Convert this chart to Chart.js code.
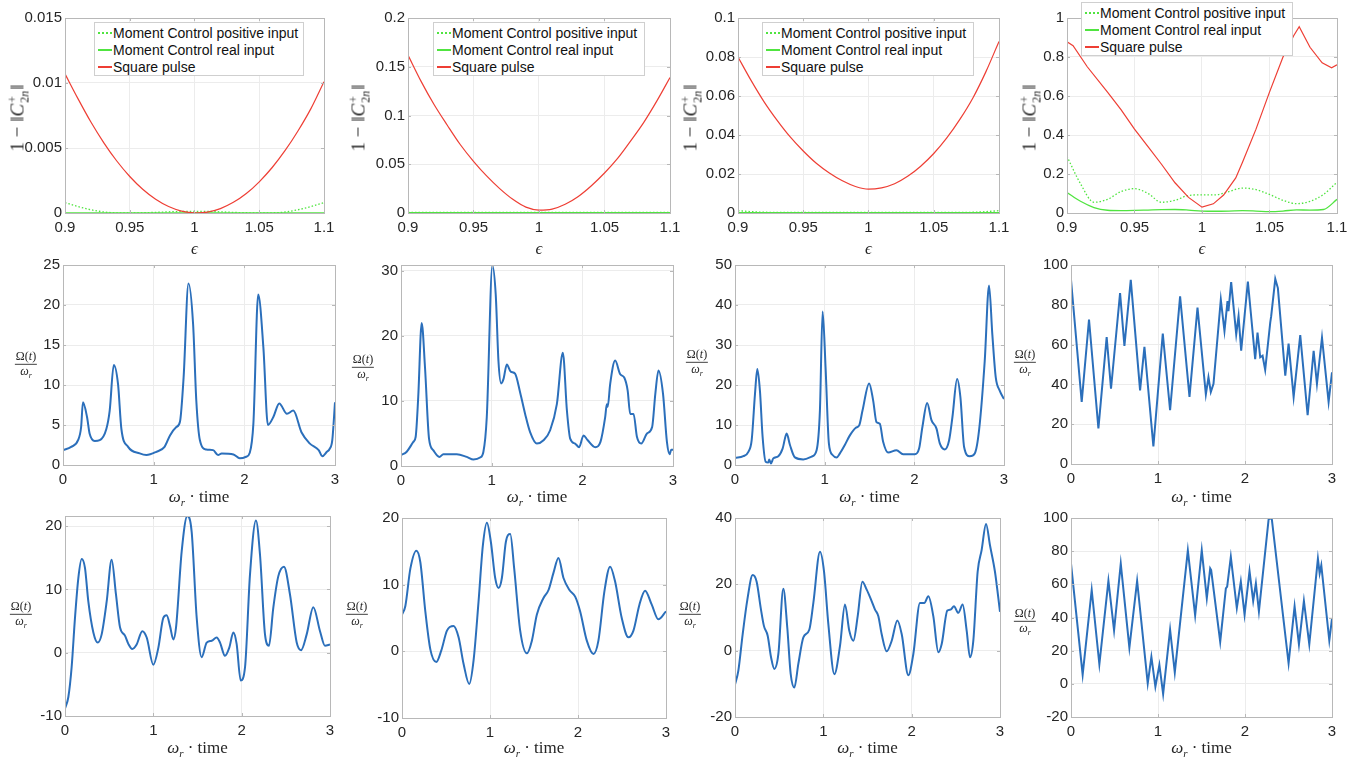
<!DOCTYPE html>
<html>
<head>
<meta charset="utf-8">
<script src="https://cdn.jsdelivr.net/npm/chart.js@4.4.1/dist/chart.umd.min.js"></script>
<style>
body { margin: 0; background: #fff; }
#fig { position: relative; width: 1361px; height: 762px; overflow: hidden; background: #fff; }
#fig canvas { position: absolute; }
.lbl { position: absolute; font-family: "Liberation Serif", "DejaVu Serif", serif; color: #262626; white-space: nowrap; transform: translate(-50%, -50%); line-height: 1; }
.xlab { font-size: 17px; }
.ylab { font-size: 19px; transform: translate(-50%, -50%) rotate(-90deg); }
.ss { display: inline-flex; flex-direction: column; font-size: 12px; line-height: 0.95; vertical-align: middle; margin: 0 1px; }
.frac { display: flex; flex-direction: column; align-items: center; font-size: 12px; line-height: 1.15; }
.frac .num { border-bottom: 1px solid #404040; padding: 0 1px; }
.legend { position: absolute; background: #fff; border: 1px solid #cfcfcf; font-family: "Liberation Sans", Arial, sans-serif; font-size: 14px; color: #111; padding-top: 1px; box-sizing: border-box; }
.legend .row { display: flex; align-items: center; height: 17px; white-space: nowrap; }
.legend .sw { width: 14px; height: 2px; margin: 0 1px 0 3px; }
</style>
</head>
<body>
<div id="fig"></div>
<script>
// ---- data ----
const seriesNames = ['Moment Control positive input', 'Moment Control real input', 'Square pulse'];
const epsGrid = [0.90, 0.91, 0.92, 0.93, 0.94, 0.95, 0.96, 0.97, 0.98, 0.99, 1.00, 1.01, 1.02, 1.03, 1.04, 1.05, 1.06, 1.07, 1.08, 1.09, 1.10];
const epsTicks = [0.9, 0.95, 1, 1.05, 1.1];
const timeTicks = [0, 1, 2, 3];

const p1Positive = [0.0008, 0.0005, 0.00025, 0.00008, 0.00001, 0, 0.00002, 0.00005, 0.00009, 0.00012, 0.00013, 0.00012, 0.00009, 0.00005, 0.00002, 0, 0.00001, 0.00008, 0.00025, 0.0005, 0.0008];
const p1Real = [0.00001, 0.00001, 0.00001, 0.00001, 0.00001, 0.00001, 0.00001, 0.00001, 0.00001, 0.00001, 0.00001, 0.00001, 0.00001, 0.00001, 0.00001, 0.00001, 0.00001, 0.00001, 0.00001, 0.00001, 0.00001];
const p1Square = [0.0107, 0.0088, 0.0070, 0.0054, 0.0040, 0.00281, 0.00183, 0.00106, 0.0005, 0.00015, 0.00001, 0.00007, 0.00034, 0.00082, 0.0015, 0.0024, 0.0035, 0.00481, 0.00633, 0.00805, 0.0101];
const p1YTicks = [0, 0.005, 0.01, 0.015];

const p2Positive = [0.0006, 0.0005, 0.0005, 0.0005, 0.0005, 0.0005, 0.0005, 0.0005, 0.0005, 0.0005, 0.0005, 0.0005, 0.0005, 0.0005, 0.0005, 0.0005, 0.0005, 0.0005, 0.0005, 0.0005, 0.0006];
const p2Real = [0.0003, 0.0003, 0.0003, 0.0003, 0.0003, 0.0003, 0.0003, 0.0003, 0.0003, 0.0003, 0.0003, 0.0003, 0.0003, 0.0003, 0.0003, 0.0003, 0.0003, 0.0003, 0.0003, 0.0003, 0.0003];
const p2Square = [0.162, 0.135, 0.111, 0.090, 0.070, 0.053, 0.038, 0.025, 0.014, 0.006, 0.003, 0.004, 0.009, 0.017, 0.028, 0.041, 0.056, 0.074, 0.093, 0.115, 0.139];
const p2YTicks = [0, 0.05, 0.1, 0.15, 0.2];

const p3Positive = [0.0012, 0.0007, 0.0004, 0.0003, 0.0003, 0.0003, 0.0003, 0.0003, 0.0003, 0.0003, 0.0003, 0.0003, 0.0003, 0.0003, 0.0003, 0.0003, 0.0003, 0.0003, 0.0004, 0.0007, 0.0012];
const p3Real = [0.0002, 0.0002, 0.0002, 0.0002, 0.0002, 0.0002, 0.0002, 0.0002, 0.0002, 0.0002, 0.0002, 0.0002, 0.0002, 0.0002, 0.0002, 0.0002, 0.0002, 0.0002, 0.0002, 0.0002, 0.0002];
const p3Square = [0.080, 0.068, 0.057, 0.0475, 0.039, 0.0318, 0.0255, 0.0205, 0.0165, 0.0136, 0.0122, 0.0129, 0.015, 0.0188, 0.024, 0.0305, 0.0385, 0.048, 0.059, 0.0725, 0.088];
const p3YTicks = [0, 0.02, 0.04, 0.06, 0.08, 0.1];

const p4Positive = [0.29, 0.15, 0.055, 0.07, 0.11, 0.125, 0.10, 0.055, 0.065, 0.09, 0.093, 0.093, 0.11, 0.128, 0.12, 0.095, 0.065, 0.048, 0.060, 0.095, 0.158];
const p4Real = [0.105, 0.06, 0.028, 0.014, 0.012, 0.013, 0.015, 0.017, 0.018, 0.015, 0.01, 0.009, 0.01, 0.012, 0.01, 0.007, 0.01, 0.016, 0.015, 0.018, 0.07];
const p4SquareEps = [0.9, 0.9045, 0.915, 0.93, 0.94, 0.95, 0.96, 0.97, 0.98, 0.99, 1.0, 1.0084, 1.016, 1.025, 1.03, 1.04, 1.05, 1.06, 1.068, 1.072, 1.08, 1.089, 1.096, 1.1];
const p4Square = [0.878, 0.858, 0.75, 0.62, 0.53, 0.43, 0.34, 0.25, 0.155, 0.08, 0.03, 0.047, 0.092, 0.18, 0.26, 0.43, 0.62, 0.80, 0.91, 0.955, 0.85, 0.77, 0.745, 0.76];
const p4YTicks = [0, 0.2, 0.4, 0.6, 0.8, 1];

const p5Time = [0, 0.09, 0.166, 0.2, 0.22, 0.265, 0.294, 0.35, 0.405, 0.478, 0.515, 0.56, 0.607, 0.644, 0.718, 0.846, 0.92, 1.03, 1.12, 1.18, 1.25, 1.29, 1.33, 1.384, 1.435, 1.47, 1.51, 1.58, 1.656, 1.71, 1.75, 1.88, 1.95, 2.02, 2.06, 2.1, 2.153, 2.21, 2.26, 2.32, 2.385, 2.47, 2.54, 2.63, 2.72, 2.82, 2.86, 2.91, 2.94, 2.97, 3.0];
const p5Omega = [1.86, 2.27, 3.1, 4.75, 7.85, 6.0, 3.9, 3.0, 3.1, 4.5, 6.8, 12.5, 10.1, 4.5, 2.27, 1.45, 1.24, 1.65, 2.27, 3.7, 4.75, 5.4, 10.9, 22.7, 17.6, 8.1, 3.1, 1.94, 1.86, 1.24, 1.45, 1.32, 0.83, 1.03, 1.53, 5.2, 21.3, 14.7, 5.0, 6.0, 7.7, 6.4, 6.8, 4.1, 2.7, 1.86, 1.1, 1.65, 2.0, 3.1, 7.85];
const p5YTicks = [0, 5, 10, 15, 20, 25];

const p6Time = [0, 0.063, 0.136, 0.162, 0.19, 0.228, 0.265, 0.309, 0.357, 0.423, 0.467, 0.615, 0.725, 0.8, 0.872, 0.909, 0.946, 1.008, 1.045, 1.075, 1.104, 1.13, 1.167, 1.21, 1.258, 1.314, 1.369, 1.424, 1.498, 1.572, 1.645, 1.719, 1.785, 1.83, 1.866, 1.92, 1.965, 2.013, 2.057, 2.142, 2.2, 2.252, 2.27, 2.28, 2.307, 2.362, 2.418, 2.462, 2.5, 2.528, 2.565, 2.602, 2.65, 2.713, 2.77, 2.805, 2.84, 2.89, 2.933, 2.963, 2.98, 3.0];
const p6Omega = [1.68, 2.2, 3.7, 4.5, 10.6, 22.0, 15.1, 4.2, 2.4, 1.4, 1.8, 1.8, 1.4, 1.0, 1.3, 2.2, 7.5, 30.8, 26.3, 16.1, 12.7, 13.35, 15.6, 14.5, 14.2, 11.3, 8.0, 5.2, 3.45, 3.96, 5.5, 9.5, 17.4, 8.5, 4.2, 3.45, 2.9, 4.7, 4.0, 2.9, 3.7, 7.5, 9.5, 9.1, 12.6, 16.2, 14.1, 13.6, 11.6, 8.0, 8.0, 4.5, 3.45, 5.0, 6.0, 11.1, 14.7, 11.1, 3.7, 1.8, 2.5, 2.5];
const p6YTicks = [0, 10, 20, 30];
const p6YRange = [0, 30.9];

const p7Time = [0, 0.093, 0.149, 0.186, 0.223, 0.249, 0.278, 0.308, 0.342, 0.371, 0.382, 0.401, 0.427, 0.483, 0.531, 0.576, 0.613, 0.668, 0.761, 0.854, 0.91, 0.947, 0.977, 1.01, 1.047, 1.088, 1.133, 1.17, 1.225, 1.281, 1.348, 1.385, 1.422, 1.496, 1.541, 1.578, 1.615, 1.652, 1.708, 1.801, 1.875, 2.005, 2.053, 2.09, 2.143, 2.191, 2.247, 2.284, 2.34, 2.388, 2.425, 2.477, 2.514, 2.555, 2.618, 2.674, 2.722, 2.785, 2.833, 2.87, 2.908, 2.952, 3.0];
const p7Omega = [1.8, 2.2, 3.3, 6.2, 17.8, 24.0, 18.6, 7.0, 0.8, 0.6, 1.4, 0.4, 1.65, 2.2, 4.1, 7.85, 5.0, 1.9, 1.4, 2.1, 3.7, 13.6, 38.4, 24.4, 5.4, 2.5, 1.9, 2.9, 5.0, 7.4, 9.3, 9.9, 13.6, 20.4, 16.1, 10.7, 10.3, 5.8, 3.1, 3.7, 2.7, 2.7, 4.1, 9.5, 15.5, 11.2, 9.1, 5.4, 3.9, 6.2, 12.0, 21.5, 16.9, 4.5, 2.2, 2.9, 8.7, 26.0, 44.9, 32.6, 21.9, 18.6, 16.5];
const p7YTicks = [0, 10, 20, 30, 40, 50];

const p8Time = [0, 0.123, 0.207, 0.315, 0.41, 0.46, 0.564, 0.614, 0.687, 0.794, 0.844, 0.947, 1.055, 1.139, 1.254, 1.362, 1.454, 1.55, 1.58, 1.607, 1.638, 1.722, 1.764, 1.799, 1.81, 1.841, 1.899, 1.926, 1.956, 2.033, 2.117, 2.144, 2.175, 2.202, 2.232, 2.29, 2.301, 2.348, 2.378, 2.463, 2.501, 2.559, 2.635, 2.72, 2.789, 2.827, 2.885, 2.961, 3.0];
const p8Omega = [92.5, 31.2, 72.6, 17.9, 63.8, 37.8, 85.9, 59.4, 92.5, 37.0, 58.9, 8.8, 65.5, 27.0, 84.2, 33.7, 78.6, 35.0, 43.6, 36.2, 40.3, 82.6, 66.8, 81.8, 76.8, 91.4, 65.2, 74.3, 56.9, 91.7, 52.7, 66.0, 53.6, 54.4, 47.3, 71.0, 74.3, 93.0, 88.4, 44.4, 60.5, 33.7, 64.8, 24.5, 56.9, 40.3, 63.5, 31.2, 46.1];
const p8YTicks = [0, 20, 40, 60, 80, 100];

const p9Time = [0, 0.038, 0.075, 0.113, 0.151, 0.189, 0.226, 0.264, 0.321, 0.37, 0.415, 0.472, 0.528, 0.577, 0.623, 0.679, 0.717, 0.762, 0.811, 0.875, 0.925, 1.0, 1.057, 1.113, 1.151, 1.189, 1.226, 1.257, 1.321, 1.385, 1.434, 1.491, 1.547, 1.604, 1.66, 1.717, 1.755, 1.811, 1.86, 1.906, 1.943, 1.989, 2.038, 2.094, 2.162, 2.208, 2.264, 2.309, 2.358, 2.415, 2.479, 2.547, 2.623, 2.672, 2.736, 2.811, 2.887, 2.943, 3.0];
const p9Omega = [-8.8, -7.0, -2.3, 5.5, 11.8, 14.8, 13.4, 8.1, 3.2, 1.6, 2.9, 8.1, 14.7, 9.2, 4.0, 2.7, 1.4, 0.6, 1.3, 3.4, 2.4, -1.9, 0.8, 5.5, 5.9, 4.2, 2.1, 4.0, 16.0, 21.6, 19.1, 5.5, -0.7, 1.6, 1.9, 2.4, 1.6, -0.5, 0.8, 3.2, 1.4, -4.4, -2.3, 12.3, 20.9, 15.4, 2.9, 1.1, 7.1, 12.1, 13.6, 9.2, 1.6, 0.4, 2.9, 7.2, 3.4, 1.1, 1.3];
const p9YTicks = [-10, 0, 10, 20];
const p9YRange = [-10, 21.6];

const p10Time = [0, 0.038, 0.095, 0.163, 0.208, 0.265, 0.322, 0.39, 0.446, 0.511, 0.586, 0.643, 0.7, 0.764, 0.813, 0.87, 0.919, 0.965, 1.01, 1.059, 1.097, 1.135, 1.18, 1.23, 1.275, 1.343, 1.419, 1.476, 1.532, 1.608, 1.665, 1.722, 1.778, 1.835, 1.903, 1.968, 2.024, 2.1, 2.176, 2.232, 2.3, 2.365, 2.421, 2.497, 2.573, 2.63, 2.698, 2.762, 2.838, 2.913, 3.0];
const p10Omega = [5.5, 6.8, 12.4, 15.1, 13.4, 6.0, 0.3, -1.6, 0.1, 3.1, 3.8, 2.1, -1.9, -4.9, -1.4, 7.5, 15.9, 19.3, 16.4, 11.0, 9.5, 11.0, 16.4, 17.6, 12.4, 3.1, -0.3, 1.6, 5.5, 8.0, 9.2, 11.8, 14.0, 11.0, 9.2, 8.2, 6.0, 1.6, -0.4, 1.6, 9.0, 12.7, 10.5, 5.0, 2.1, 3.1, 7.0, 9.1, 7.0, 4.8, 6.0];
const p10YTicks = [-10, 0, 10, 20];

const p11Time = [0, 0.038, 0.087, 0.14, 0.2, 0.245, 0.291, 0.328, 0.37, 0.408, 0.445, 0.491, 0.547, 0.592, 0.63, 0.672, 0.717, 0.774, 0.842, 0.887, 0.962, 1.008, 1.057, 1.125, 1.189, 1.245, 1.294, 1.34, 1.389, 1.442, 1.491, 1.54, 1.585, 1.623, 1.66, 1.717, 1.774, 1.838, 1.887, 1.962, 2.019, 2.094, 2.143, 2.189, 2.245, 2.302, 2.34, 2.404, 2.442, 2.479, 2.528, 2.577, 2.623, 2.66, 2.698, 2.747, 2.792, 2.842, 2.887, 2.943, 3.0];
const p11Omega = [-10.2, -6.0, 5.0, 15.4, 22.8, 20.8, 12.9, 7.4, 4.5, -2.0, -5.5, -1.0, 18.7, 6.9, -6.9, -11.1, -4.0, 4.0, 6.4, 14.4, 29.8, 23.8, 7.9, -7.1, 1.5, 13.9, 6.0, 3.0, 10.4, 20.8, 18.4, 15.4, 12.4, 10.4, 5.0, -0.2, 3.0, 9.1, 5.0, -7.4, -1.0, 14.4, 14.4, 16.4, 10.4, -0.5, 2.0, 12.1, 12.4, 13.4, 11.4, 13.9, 6.0, -2.0, 3.0, 23.8, 30.3, 38.2, 31.7, 23.8, 11.7];
const p11YTicks = [-20, 0, 20, 40];

const p12Time = [0, 0.134, 0.238, 0.326, 0.43, 0.495, 0.572, 0.671, 0.76, 0.882, 0.924, 0.97, 1.016, 1.059, 1.139, 1.193, 1.343, 1.427, 1.503, 1.561, 1.6, 1.611, 1.715, 1.78, 1.795, 1.837, 1.906, 1.952, 1.995, 2.052, 2.094, 2.125, 2.16, 2.271, 2.29, 2.309, 2.501, 2.57, 2.62, 2.677, 2.739, 2.838, 2.858, 2.877, 2.969, 3.0];
const p12Omega = [72.5, 5.5, 56.6, 11.8, 62.1, 32.2, 72.5, 21.8, 62.1, 0.3, 16.2, -1.7, 11.4, -6.1, 32.7, 6.9, 80.5, 41.3, 80.5, 51.6, 69.6, 68.6, 25.4, 57.6, 58.6, 76.5, 45.7, 61.6, 41.7, 68.0, 50.0, 60.6, 43.7, 99.0, 100, 99.0, 12.4, 46.7, 23.8, 50.0, 23.8, 75.5, 66.6, 71.5, 26.1, 39.3];
const p12YTicks = [-20, 0, 20, 40, 60, 80, 100];

// ---- style ----
const GREEN = 'rgb(80,228,64)';
const RED = 'rgb(238,62,52)';
const BLUE = '#2b6fbb';
const TICK_COLOR = '#262626';
const GRID_COLOR = '#ececec';
const FRAME_COLOR = '#b8b8b8';
const PAD = { l: 52, t: 10, r: 18, b: 28 };

function pts(xs, ys) {
  return xs.map((x, i) => ({ x: x, y: ys[i] }));
}

function line(label, xs, ys, color, width, dash, smooth, order) {
  return {
    label: label,
    data: pts(xs, ys),
    borderColor: color,
    borderWidth: width,
    borderDash: dash,
    pointRadius: 0,
    tension: 0,
    cubicInterpolationMode: smooth ? 'monotone' : 'default',
    fill: false,
    order: order
  };
}

function epsSets(pos, real, sqEps, sq, sqSmooth) {
  return [
    line(seriesNames[0], epsGrid, pos, GREEN, 1.3, [1.5, 2], true, 2),
    line(seriesNames[1], epsGrid, real, GREEN, 1.3, [], true, 1),
    line(seriesNames[2], sqEps, sq, RED, 1.2, [], sqSmooth, 0)
  ];
}

function omegaSet(t, w, smooth) {
  return [line('Omega', t, w, BLUE, 2, [], smooth, 0)];
}

const panels = [
  { box: [65, 16, 324, 213], sets: epsSets(p1Positive, p1Real, epsGrid, p1Square, true), xr: [0.9, 1.1], xt: epsTicks, yr: [0, 0.015], yt: p1YTicks, kind: 'eps', yl: [19, 118], legend: [94, 22, 210] },
  { box: [408, 16, 670, 213], sets: epsSets(p2Positive, p2Real, epsGrid, p2Square, true), xr: [0.9, 1.1], xt: epsTicks, yr: [0, 0.2], yt: p2YTicks, kind: 'eps', yl: [360, 118], legend: [433, 22, 212] },
  { box: [738, 16, 999, 213], sets: epsSets(p3Positive, p3Real, epsGrid, p3Square, true), xr: [0.9, 1.1], xt: epsTicks, yr: [0, 0.1], yt: p3YTicks, kind: 'eps', yl: [692, 118], legend: [762, 22, 212] },
  { box: [1067, 16, 1337, 213], sets: epsSets(p4Positive, p4Real, p4SquareEps, p4Square, false), xr: [0.9, 1.1], xt: epsTicks, yr: [0, 1], yt: p4YTicks, kind: 'eps', yl: [1031, 118], legend: [1081, 2, 212] },
  { box: [63, 263, 335, 465], sets: omegaSet(p5Time, p5Omega, true), xr: [0, 3], xt: timeTicks, yr: [0, 25], yt: p5YTicks, kind: 'time', xly: 498, yl: [26, 365] },
  { box: [401, 263, 673, 466], sets: omegaSet(p6Time, p6Omega, true), xr: [0, 3], xt: timeTicks, yr: p6YRange, yt: p6YTicks, kind: 'time', xly: 498, yl: [363, 368] },
  { box: [735, 263, 1004, 465], sets: omegaSet(p7Time, p7Omega, true), xr: [0, 3], xt: timeTicks, yr: [0, 50], yt: p7YTicks, kind: 'time', xly: 498, yl: [697, 363] },
  { box: [1071, 263, 1332, 464], sets: omegaSet(p8Time, p8Omega, false), xr: [0, 3], xt: timeTicks, yr: [0, 100], yt: p8YTicks, kind: 'time', xly: 498, yl: [1025, 363] },
  { box: [65, 514, 330, 716], sets: omegaSet(p9Time, p9Omega, true), xr: [0, 3], xt: timeTicks, yr: p9YRange, yt: p9YTicks, kind: 'time', xly: 749, yl: [21, 615] },
  { box: [402, 516, 666, 718], sets: omegaSet(p10Time, p10Omega, true), xr: [0, 3], xt: timeTicks, yr: [-10, 20], yt: p10YTicks, kind: 'time', xly: 749, yl: [357, 615] },
  { box: [735, 516, 1000, 717], sets: omegaSet(p11Time, p11Omega, true), xr: [0, 3], xt: timeTicks, yr: [-20, 40], yt: p11YTicks, kind: 'time', xly: 749, yl: [690, 615] },
  { box: [1071, 516, 1332, 717], sets: omegaSet(p12Time, p12Omega, false), xr: [0, 3], xt: timeTicks, yr: [-20, 100], yt: p12YTicks, kind: 'time', xly: 749, yl: [1025, 622] }
];

// box + inward ticks like matlab
const framePlugin = {
  id: 'frame',
  afterDraw(chart) {
    const ctx = chart.ctx;
    const a = chart.chartArea;
    const sx = chart.scales.x, sy = chart.scales.y;
    ctx.save();
    ctx.strokeStyle = FRAME_COLOR;
    ctx.lineWidth = 1;
    ctx.beginPath();
    sx.ticks.forEach(t => {
      const px = Math.round(sx.getPixelForValue(t.value)) + 0.5;
      ctx.moveTo(px, a.bottom); ctx.lineTo(px, a.bottom - 3);
      ctx.moveTo(px, a.top); ctx.lineTo(px, a.top + 3);
    });
    sy.ticks.forEach(t => {
      const py = Math.round(sy.getPixelForValue(t.value)) + 0.5;
      ctx.moveTo(a.left, py); ctx.lineTo(a.left + 3, py);
      ctx.moveTo(a.right, py); ctx.lineTo(a.right - 3, py);
    });
    ctx.stroke();
    ctx.strokeRect(Math.round(a.left) + 0.5, Math.round(a.top) + 0.5, Math.round(a.width), Math.round(a.height));
    ctx.restore();
  }
};

Chart.defaults.font.family = '"Liberation Sans", Arial, sans-serif';

const fig = document.getElementById('fig');

function addLabel(html, cx, cy, cls) {
  const d = document.createElement('div');
  d.className = 'lbl ' + cls;
  d.innerHTML = html;
  d.style.left = cx + 'px';
  d.style.top = cy + 'px';
  fig.appendChild(d);
}

function axisOpts(range, tickVals, fitKey, fitVal, pad) {
  return {
    type: 'linear',
    min: range[0],
    max: range[1],
    afterBuildTicks: s => { s.ticks = tickVals.map(v => ({ value: v })); },
    afterFit: s => { s[fitKey] = fitVal; },
    ticks: {
      color: TICK_COLOR,
      font: { size: 15 },
      padding: pad,
      maxRotation: 0,
      autoSkip: false,
      callback: v => String(v)
    },
    grid: { color: GRID_COLOR, drawTicks: false },
    border: { display: false }
  };
}

panels.forEach(p => {
  const [x0, y0, x1, y1] = p.box;
  const w = x1 - x0 + PAD.l + PAD.r;
  const h = y1 - y0 + PAD.t + PAD.b;
  const cv = document.createElement('canvas');
  cv.width = w; cv.height = h;
  cv.style.left = (x0 - PAD.l) + 'px';
  cv.style.top = (y0 - PAD.t) + 'px';
  cv.style.width = w + 'px';
  cv.style.height = h + 'px';
  fig.appendChild(cv);

  const chart = new Chart(cv, {
    type: 'line',
    data: { datasets: p.sets },
    options: {
      responsive: false,
      animation: false,
      events: [],
      devicePixelRatio: 1,
      layout: { padding: { left: 0, top: PAD.t, right: PAD.r, bottom: 0 } },
      plugins: { legend: { display: false }, tooltip: { enabled: false } },
      scales: {
        x: axisOpts(p.xr, p.xt, 'height', PAD.b, 6),
        y: axisOpts(p.yr, p.yt, 'width', PAD.l, 3)
      }
    },
    plugins: [framePlugin]
  });

  const cx = (x0 + x1) / 2;
  if (p.kind === 'eps') {
    addLabel('<i>ϵ</i>', cx, 248, 'xlab');
    addLabel('1 &minus; &#8214;<i>C</i><span class="ss"><span>+</span><span>2<i>n</i></span></span>&#8214;', p.yl[0], p.yl[1], 'ylab');
    // legend built from the chart's own datasets
    const lg = document.createElement('div');
    lg.className = 'legend';
    lg.style.left = p.legend[0] + 'px';
    lg.style.top = p.legend[1] + 'px';
    lg.style.width = p.legend[2] + 'px';
    chart.data.datasets.forEach(ds => {
      const row = document.createElement('div');
      row.className = 'row';
      const sw = document.createElement('span');
      sw.className = 'sw';
      if (ds.borderDash.length) {
        sw.style.background = 'repeating-linear-gradient(90deg, ' + ds.borderColor + ' 0 2px, transparent 2px 4px)';
      } else {
        sw.style.background = ds.borderColor;
      }
      const tx = document.createElement('span');
      tx.textContent = ds.label;
      row.appendChild(sw);
      row.appendChild(tx);
      lg.appendChild(row);
    });
    fig.appendChild(lg);
  } else {
    addLabel('<i>ω<sub style="font-size:11px">r</sub></i> &middot; time', cx, p.xly, 'xlab');
    addLabel('<div class="frac"><span class="num">Ω(<i>t</i>)</span><span><i>ω<sub style="font-size:8px">r</sub></i></span></div>', p.yl[0], p.yl[1], '');
  }
});
</script>
</body>
</html>
